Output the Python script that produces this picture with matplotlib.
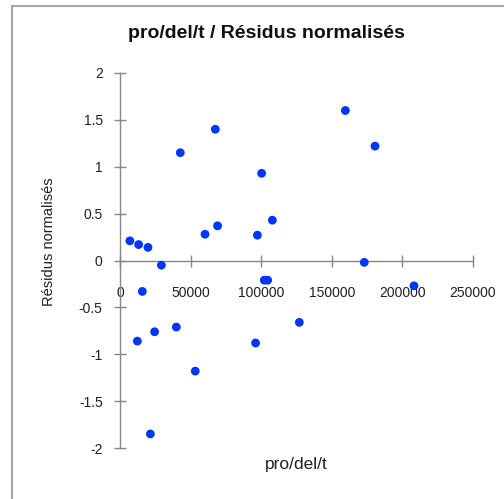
import matplotlib
matplotlib.use("Agg")
import matplotlib.pyplot as plt
from matplotlib.patches import Rectangle

# pro/del/t values and normalised residuals
prodelt = [7000, 13200, 19800, 29300, 42700, 67500, 60200, 69100,
           100300, 97300, 107900, 102200, 104600, 15800, 12300, 24500,
           39900, 53300, 21500, 96000, 127000, 159600, 180600, 173000,
           208200]
residus = [0.21, 0.17, 0.14, -0.05, 1.15, 1.40, 0.28, 0.37,
           0.93, 0.27, 0.43, -0.21, -0.21, -0.33, -0.86, -0.76,
           -0.71, -1.18, -1.85, -0.88, -0.66, 1.60, 1.22, -0.02,
           -0.27]
xticks = [0, 50000, 100000, 150000, 200000, 250000]
yticks = [-2, -1.5, -1, -0.5, 0, 0.5, 1, 1.5, 2]
ytick_labels = ["-2", "-1.5", "-1", "-0.5", "0", "0.5", "1", "1.5", "2"]

plt.rcParams["font.family"] = ["Liberation Sans", "DejaVu Sans"]

fig = plt.figure(figsize=(5.04, 4.99), dpi=100)
W, H = 504, 499

# chart area border (only top and left edges visible)
fig.patches.append(Rectangle((12 / W, -0.1), 1.2, 1 - 6 / H + 0.1,
                             transform=fig.transFigure, fill=False,
                             edgecolor="#a6a6a6", linewidth=1.5))

ax = fig.add_axes([120 / W, (H - 448) / H, 353 / W, 375 / H])
ax.scatter(prodelt, residus, s=40, color="#0036f5", zorder=3,
           edgecolors="none")

ax.set_xlim(0, 250000)
ax.set_ylim(-2, 2)
ax.set_xticks(xticks)
ax.set_xticklabels([str(v) for v in xticks])
ax.set_yticks(yticks)
ax.set_yticklabels(ytick_labels)

for side in ["top", "right"]:
    ax.spines[side].set_visible(False)
ax.spines["bottom"].set_position(("data", 0))
ax.spines["left"].set_position(("data", 0))
for side in ["bottom", "left"]:
    ax.spines[side].set_color("#868686")
    ax.spines[side].set_linewidth(1.0)

ax.tick_params(axis="both", direction="inout", length=9, width=1.0,
               color="#868686", labelsize=10, labelcolor="#202020")
ax.tick_params(axis="x", pad=14)
ax.tick_params(axis="y", pad=8)

fig.text(266 / W, 1 - 33 / H, "pro/del/t / Résidus normalisés",
         ha="center", va="center", fontsize=14, fontweight="bold",
         color="#101010")
fig.text(49 / W, 1 - 242 / H, "Résidus normalisés", rotation=90,
         ha="center", va="center", fontsize=10.5, color="#202020")
fig.text(296 / W, 1 - 464 / H, "pro/del/t", ha="center", va="center",
         fontsize=12.5, color="#202020")

fig.savefig("out.png", dpi=100)
